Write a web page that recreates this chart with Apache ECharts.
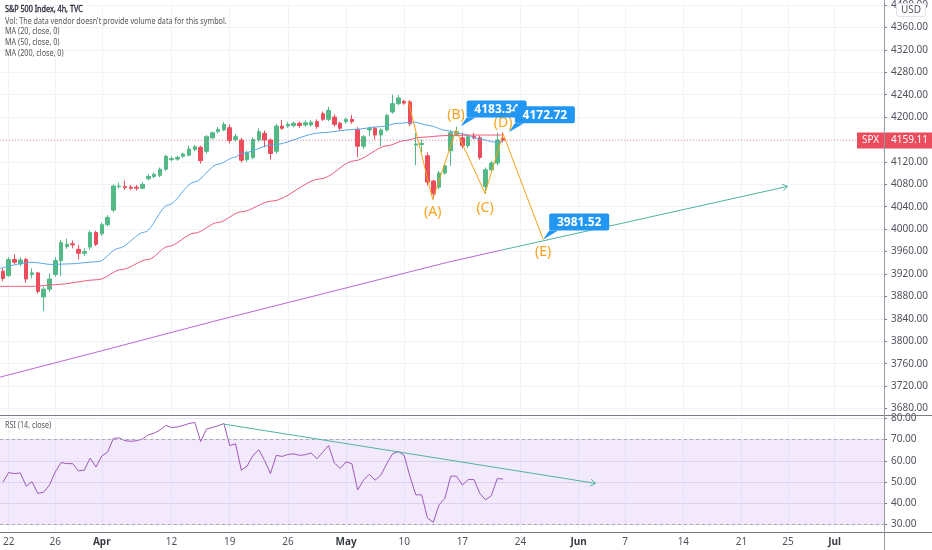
<!DOCTYPE html>
<html>
<head>
<meta charset="utf-8">
<title>S&amp;P 500 Index, 4h, TVC</title>
<script src="https://cdn.jsdelivr.net/npm/echarts@6/dist/echarts.min.js"></script>
<style>
  html, body { margin: 0; padding: 0; background: #fff; }
  #chart { width: 932px; height: 550px; }
</style>
</head>
<body>
<div id="chart"></div>
<script>
// trading days shown on the time scale (two 4h bars per session)
var tradingDays = [
  '2021-03-19', '2021-03-22', '2021-03-23', '2021-03-24', '2021-03-25', '2021-03-26', '2021-03-29', '2021-03-30', '2021-03-31',
  '2021-04-01', '2021-04-05', '2021-04-06', '2021-04-07', '2021-04-08', '2021-04-09', '2021-04-12', '2021-04-13', '2021-04-14',
  '2021-04-15', '2021-04-16', '2021-04-19', '2021-04-20', '2021-04-21', '2021-04-22', '2021-04-23', '2021-04-26', '2021-04-27',
  '2021-04-28', '2021-04-29', '2021-04-30',
  '2021-05-03', '2021-05-04', '2021-05-05', '2021-05-06', '2021-05-07', '2021-05-10', '2021-05-11', '2021-05-12', '2021-05-13',
  '2021-05-14', '2021-05-17', '2021-05-18', '2021-05-19', '2021-05-20', '2021-05-21', '2021-05-24', '2021-05-25', '2021-05-26',
  '2021-05-27', '2021-05-28',
  '2021-06-01', '2021-06-02', '2021-06-03', '2021-06-04', '2021-06-07', '2021-06-08', '2021-06-09', '2021-06-10', '2021-06-11',
  '2021-06-14', '2021-06-15', '2021-06-16', '2021-06-17', '2021-06-18', '2021-06-21', '2021-06-22', '2021-06-23', '2021-06-24',
  '2021-06-25', '2021-06-28', '2021-06-29', '2021-06-30',
  '2021-07-01', '2021-07-02', '2021-07-06', '2021-07-07', '2021-07-08'
];
var sessionStarts = ['09:30', '13:30'];

// time scale labels: [day, label]
var xLabels = [
  ['2021-03-22', '22'], ['2021-03-26', '26'], ['2021-04-01', 'Apr'], ['2021-04-12', '12'], ['2021-04-19', '19'],
  ['2021-04-26', '26'], ['2021-05-03', 'May'], ['2021-05-10', '10'], ['2021-05-17', '17'], ['2021-05-24', '24'],
  ['2021-06-01', 'Jun'], ['2021-06-07', '7'], ['2021-06-14', '14'], ['2021-06-21', '21'], ['2021-06-25', '25'],
  ['2021-07-01', 'Jul']
];
var monthLabels = ['Apr', 'May', 'Jun', 'Jul'];

var priceTicks = [3680, 3720, 3760, 3800, 3840, 3880, 3920, 3960, 4000, 4040, 4080, 4120, 4160, 4200,
  4240, 4280, 4320, 4360, 4400];
var rsiTicks = [30, 40, 50, 60, 70, 80];

// 4h candles [open, close, low, high], first bar = 19 Mar second session
var candles = [
  [3925, 3912, 3907, 3930], [3917, 3946, 3915, 3950], [3946, 3941, 3938, 3955], [3938, 3945, 3934, 3950],
  [3946, 3911, 3904, 3949], [3919, 3922, 3912, 3930], [3922, 3889, 3885, 3924], [3879, 3893, 3854, 3897],
  [3893, 3911, 3888, 3921], [3919, 3944, 3915, 3950], [3944, 3976, 3916, 3981], [3969, 3973, 3965, 3983],
  [3974, 3972, 3966, 3980], [3964, 3957, 3946, 3972], [3957, 3960, 3952, 3966], [3968, 3994, 3963, 3998],
  [3994, 3973, 3970, 3997], [3992, 4008, 3988, 4012], [4008, 4021, 4005, 4025], [4034, 4077, 4030, 4080],
  [4076, 4077, 4072, 4083], [4076, 4074, 4070, 4087], [4075, 4073, 4070, 4079], [4075, 4073, 4069, 4079],
  [4073, 4080, 4071, 4084], [4090, 4094, 4087, 4098], [4094, 4098, 4091, 4101], [4096, 4107, 4093, 4110],
  [4107, 4130, 4104, 4133], [4124, 4126, 4121, 4130], [4125, 4128, 4122, 4131], [4130, 4134, 4127, 4137],
  [4132, 4143, 4130, 4149], [4142, 4147, 4139, 4150], [4146, 4122, 4117, 4149], [4139, 4165, 4135, 4168],
  [4163, 4172, 4160, 4174], [4174, 4178, 4171, 4182], [4177, 4187, 4175, 4191], [4181, 4158, 4153, 4187],
  [4160, 4165, 4156, 4170], [4159, 4123, 4119, 4163], [4124, 4137, 4120, 4140], [4128, 4160, 4125, 4164],
  [4159, 4174, 4156, 4180], [4171, 4159, 4146, 4176], [4159, 4135, 4124, 4162], [4139, 4184, 4135, 4188],
  [4184, 4180, 4177, 4195], [4184, 4187, 4181, 4191], [4185, 4189, 4182, 4192], [4189, 4185, 4181, 4192],
  [4186, 4190, 4183, 4194], [4186, 4191, 4183, 4195], [4192, 4183, 4179, 4196], [4206, 4196, 4193, 4210],
  [4196, 4212, 4193, 4218], [4200, 4187, 4183, 4205], [4189, 4180, 4176, 4192], [4192, 4196, 4188, 4199],
  [4196, 4192, 4188, 4204], [4178, 4148, 4129, 4182], [4148, 4165, 4143, 4168], [4177, 4180, 4166, 4183],
  [4180, 4168, 4160, 4183], [4168, 4177, 4148, 4180], [4177, 4203, 4174, 4206], [4209, 4224, 4206, 4240],
  [4224, 4234, 4221, 4239], [4228, 4225, 4222, 4231], [4227, 4188, 4184, 4230], [4150, 4152, 4114, 4172],
  [4151, 4153, 4137, 4160], [4131, 4084, 4078, 4137], [4086, 4063, 4054, 4088], [4075, 4100, 4071, 4104],
  [4100, 4113, 4097, 4117], [4140, 4172, 4113, 4176], [4169, 4174, 4166, 4183], [4163, 4149, 4144, 4172],
  [4149, 4165, 4145, 4170], [4166, 4163, 4160, 4172], [4163, 4128, 4124, 4167], [4076, 4106, 4063, 4110],
  [4106, 4118, 4102, 4122], [4118, 4159, 4114, 4172], [4162, 4159.11, 4155, 4172.72]
];

// moving averages: [bar position, value]
var ma20 = [
  [-0.5, 3930], [5, 3941], [8.4, 3937], [11.3, 3938], [16.4, 3942], [19.9, 3966], [24.4, 3995],
  [28.4, 4043], [32.9, 4084], [37, 4116], [39.8, 4128], [41, 4135], [46.2, 4150], [54.7, 4172],
  [60.4, 4178], [65, 4183], [68, 4189], [70.7, 4191], [73.3, 4185], [76.2, 4176], [79, 4170],
  [81.8, 4161], [84.8, 4155], [86, 4156]
];
var ma50 = [
  [-0.5, 3898], [5.5, 3898], [9, 3901], [16.4, 3910], [20.4, 3928], [25, 3946], [28.4, 3969],
  [33, 3993], [37, 4012], [41, 4031], [46.2, 4050], [54.7, 4090], [60.4, 4122], [66.2, 4149],
  [69, 4158], [71.9, 4164], [76.2, 4167], [82.2, 4168], [86, 4168]
];
var ma200 = [
  [-0.5, 3736], [17, 3783], [36.4, 3836], [41, 3848], [58.2, 3893], [76.5, 3941], [85.9, 3963]
];

// RSI (14, close), one value per bar
var rsi = [
  50, 54.5, 54.0, 54.3, 48.1, 50.2, 44.7, 45.2, 48.6, 54.8, 59.2, 58.7, 58.7, 55.3, 55.6, 61.3,
  57.1, 62.3, 64.1, 70.6, 70.8, 69.5, 69.2, 69.5, 70.3, 72.3, 73.0, 74.5, 76.7, 75.7, 76.0, 76.7,
  77.6, 78.1, 69.1, 75.0, 75.7, 76.5, 77.6, 67.2, 68.0, 55.6, 57.6, 62.6, 65.2, 60.2, 54.0, 62.6,
  62.1, 63.0, 63.3, 62.6, 62.9, 63.7, 61.0, 64.1, 67.2, 59.0, 56.4, 59.5, 58.7, 46.3, 50.9, 53.7,
  50.9, 53.3, 58.7, 63.3, 64.4, 62.6, 52.5, 44.0, 44.0, 33.1, 31.1, 39.3, 42.4, 52.8, 52.8, 48.6,
  51.2, 51.2, 44.7, 41.6, 43.7, 51.7, 51.4
];

// drawings
var waves = [
  [69.7, 4229, ''], [73.9, 4053, '(A)'], [77.9, 4177, '(B)'], [82.9, 4064, '(C)'],
  [86.0, 4170, '(D)'], [92.9, 3981.52, '(E)']
];
var notes = [[78.7, 4183.34], [87.0, 4172.72], [92.9, 3981.52]];
var trendMain = [[85.9, 3963, 134.9, 4076.3]];
var trendRsi = [[38.0, 77.3, 101.9, 49.4]];
var lastPrice = [[86, 4159.11]];

var categories = [];
tradingDays.forEach(function (d) {
  sessionStarts.forEach(function (t) { categories.push(d + ' ' + t); });
});
categories = categories.slice(1, 153);

var labelIdx = [], labelText = {};
xLabels.forEach(function (l) {
  var i = categories.indexOf(l[0] + ' ' + sessionStarts[0]);
  labelIdx.push(i);
  labelText[i] = l[1];
});

var FONT = '"Noto Sans", sans-serif';
var GRID = '#f0f3fa';
var TEXT = '#50535e';
var UP = '#53b987', DOWN = '#eb4d5c';
var ORANGE = '#f7a21b', TEAL = '#4fb3a0', BLUE = '#2196f3';
var xMax = categories.length - 0.5;

function arrowLine(color) {
  return function (params, api) {
    var p1 = api.coord([api.value(0), api.value(1)]);
    var p2 = api.coord([api.value(2), api.value(3)]);
    var a = Math.atan2(p2[1] - p1[1], p2[0] - p1[0]);
    var s = 6;
    var h1 = [p2[0] - s * Math.cos(a - 0.6), p2[1] - s * Math.sin(a - 0.6)];
    var h2 = [p2[0] - s * Math.cos(a + 0.6), p2[1] - s * Math.sin(a + 0.6)];
    return {
      type: 'group',
      children: [
        { type: 'line', shape: { x1: p1[0], y1: p1[1], x2: p2[0], y2: p2[1] }, style: { stroke: color, lineWidth: 1 } },
        { type: 'polyline', shape: { points: [h1, p2, h2] }, style: { stroke: color, fill: null, lineWidth: 1 } }
      ]
    };
  };
}

function renderNote(params, api) {
  var p = api.coord([api.value(0), api.value(1)]);
  var left = p[0] + 6, bottom = p[1] - 9, w = 60, h = 17;
  return {
    type: 'group',
    children: [
      { type: 'polygon', shape: { points: [[p[0], p[1]], [left, bottom], [left + 9, bottom]] }, style: { fill: BLUE } },
      { type: 'rect', shape: { x: left, y: bottom - h, width: w, height: h, r: 2 }, style: { fill: BLUE } },
      {
        type: 'text', x: left + w / 2, y: bottom - h / 2 + 0.5,
        style: { text: api.value(1).toFixed(2), fill: '#fff', fontFamily: FONT, fontSize: 12, fontWeight: 'bold', align: 'center', verticalAlign: 'middle' }
      }
    ]
  };
}

function renderLast(params, api) {
  var p = api.coord([api.value(0), api.value(1)]);
  var cs = params.coordSys;
  var right = cs.x + cs.width;
  var y = Math.round(p[1]) + 0.5;
  return {
    type: 'group',
    children: [
      { type: 'line', shape: { x1: 0, y1: y, x2: right, y2: y }, style: { stroke: 'rgba(235,77,92,0.55)', lineWidth: 1, lineDash: [1, 2] } },
      { type: 'rect', shape: { x: right - 27, y: y - 8, width: 27, height: 16 }, style: { fill: DOWN } },
      { type: 'text', x: right - 13.5, y: y, style: { text: 'SPX', fill: '#fff', fontFamily: FONT, fontSize: 10, align: 'center', verticalAlign: 'middle' } },
      { type: 'rect', shape: { x: right + 1, y: y - 8, width: 47, height: 16 }, style: { fill: DOWN } },
      { type: 'text', x: right + 7, y: y, style: { text: api.value(1).toFixed(2), fill: '#fff', fontFamily: FONT, fontSize: 10, align: 'left', verticalAlign: 'middle' } }
    ]
  };
}

function legendText(text, top, strong) {
  return {
    type: 'text', x: 5, y: top, scaleX: 0.8, z: 100,
    style: {
      text: text, fill: strong ? '#2a2e39' : '#555', fontFamily: FONT, fontSize: 9,
      stroke: strong ? '#2a2e39' : null, lineWidth: strong ? 0.35 : 0
    }
  };
}

var chart = echarts.init(document.getElementById('chart'));

chart.setOption({
  animation: false,
  backgroundColor: '#fff',
  textStyle: { fontFamily: FONT },
  grid: [
    { left: -2, right: 48, top: 0, height: 415 },
    { left: -2, right: 48, top: 415, height: 117 }
  ],
  xAxis: [
    { type: 'category', gridIndex: 0, data: categories, boundaryGap: true, show: false, position: 'bottom' },
    {
      type: 'value', gridIndex: 0, position: 'bottom', min: -0.5, max: xMax,
      axisLine: { show: false, onZero: false }, axisLabel: { show: false },
      axisTick: { show: false, customValues: labelIdx },
      splitLine: { show: true, lineStyle: { color: GRID } }
    },
    { type: 'category', gridIndex: 1, data: categories, boundaryGap: true, show: false, position: 'bottom' },
    {
      type: 'value', gridIndex: 1, position: 'bottom', min: -0.5, max: xMax,
      axisLine: { show: false, onZero: false },
      axisTick: { show: false, customValues: labelIdx },
      axisLabel: {
        customValues: labelIdx, margin: 5, color: TEXT, fontSize: 10,
        formatter: function (v) {
          var t = labelText[v];
          return monthLabels.indexOf(t) >= 0 ? '{b|' + t + '}' : t;
        },
        rich: { b: { fontWeight: 'bold', fontSize: 10, color: '#3a3d45' } }
      },
      splitLine: { show: true, lineStyle: { color: GRID } }
    }
  ],
  yAxis: [
    {
      type: 'value', gridIndex: 0, position: 'right', min: 3668.4, max: 4402,
      axisLine: { show: false, onZero: false },
      axisTick: { show: true, length: 3, customValues: priceTicks, lineStyle: { color: '#787b86' } },
      axisLabel: { customValues: priceTicks, margin: 7, color: TEXT, fontSize: 10, formatter: function (v) { return v.toFixed(2); } },
      splitLine: { show: true, lineStyle: { color: GRID } }
    },
    {
      type: 'value', gridIndex: 1, position: 'right', min: 26.5, max: 81.6,
      axisLine: { show: false, onZero: false },
      axisTick: { show: true, length: 3, customValues: rsiTicks, lineStyle: { color: '#787b86' } },
      axisLabel: { customValues: rsiTicks, margin: 7, color: TEXT, fontSize: 10, formatter: function (v) { return v.toFixed(2); } },
      splitLine: { show: true, lineStyle: { color: '#e9e3f3' } }
    }
  ],
  series: [
    {
      name: 'SPX', type: 'candlestick', xAxisIndex: 0, yAxisIndex: 0, data: candles, barWidth: 4, z: 3,
      itemStyle: { color: UP, color0: DOWN, borderColor: UP, borderColor0: DOWN, borderWidth: 1 }
    },
    {
      name: 'MA 20', type: 'line', xAxisIndex: 1, yAxisIndex: 0, data: ma20, showSymbol: false, z: 4,
      smooth: 0.3, smoothMonotone: 'x', lineStyle: { color: '#5aa6e8', width: 1 }
    },
    {
      name: 'MA 50', type: 'line', xAxisIndex: 1, yAxisIndex: 0, data: ma50, showSymbol: false, z: 4,
      smooth: 0.3, smoothMonotone: 'x', lineStyle: { color: '#ee5a7a', width: 1 }
    },
    {
      name: 'MA 200', type: 'line', xAxisIndex: 1, yAxisIndex: 0, data: ma200, showSymbol: false, z: 4,
      lineStyle: { color: '#b868d4', width: 1 }
    },
    {
      name: 'Waves', type: 'line', xAxisIndex: 1, yAxisIndex: 0, z: 5,
      symbol: 'circle', symbolSize: 1, showAllSymbol: true,
      itemStyle: { color: 'rgba(0,0,0,0)' },
      lineStyle: { color: ORANGE, width: 1 },
      data: waves.map(function (w) {
        var up = w[2] === '(B)' || w[2] === '(D)';
        return {
          value: [w[0], w[1]],
          label: {
            show: w[2] !== '', formatter: w[2], position: up ? 'top' : 'bottom',
            distance: w[2] === '(D)' ? 3 : (w[2] === '(B)' || w[2] === '(C)' ? 7 : 5),
            color: ORANGE, fontSize: 14, fontFamily: FONT
          }
        };
      })
    },
    {
      name: 'Trend', type: 'custom', xAxisIndex: 1, yAxisIndex: 0, z: 5,
      encode: { x: [0, 2], y: [1, 3] }, data: trendMain, renderItem: arrowLine(TEAL)
    },
    {
      name: 'Notes', type: 'custom', xAxisIndex: 1, yAxisIndex: 0, z: 6,
      encode: { x: 0, y: 1 }, data: notes, renderItem: renderNote
    },
    {
      name: 'Last', type: 'custom', xAxisIndex: 1, yAxisIndex: 0, z: 6,
      encode: { x: 0, y: 1 }, data: lastPrice, renderItem: renderLast
    },
    {
      name: 'RSI', type: 'line', xAxisIndex: 2, yAxisIndex: 1, data: rsi, showSymbol: false, z: 4,
      lineStyle: { color: '#9c5bb5', width: 1 },
      markArea: {
        silent: true,
        itemStyle: { color: 'rgba(149,76,233,0.12)' },
        data: [[{ yAxis: 30 }, { yAxis: 70 }]]
      },
      markLine: {
        silent: true, symbol: 'none', label: { show: false },
        lineStyle: { color: '#a9a9b3', type: [3, 3], width: 1 },
        data: [{ yAxis: 70 }, { yAxis: 30 }]
      }
    },
    {
      name: 'RSI trend', type: 'custom', xAxisIndex: 3, yAxisIndex: 1, z: 5,
      encode: { x: [0, 2], y: [1, 3] }, data: trendRsi, renderItem: arrowLine(TEAL)
    }
  ],
  graphic: [
    { type: 'line', z: 100, shape: { x1: 0, y1: 415.5, x2: 932, y2: 415.5 }, style: { stroke: '#787b86', lineWidth: 1 } },
    { type: 'line', z: 100, shape: { x1: 0, y1: 532.5, x2: 932, y2: 532.5 }, style: { stroke: '#787b86', lineWidth: 1 } },
    { type: 'line', z: 100, shape: { x1: 884.5, y1: 0, x2: 884.5, y2: 550 }, style: { stroke: '#9598a1', lineWidth: 1 } },
    {
      type: 'text', left: 896, top: 3, z: 101,
      style: {
        text: 'USD', fill: TEXT, fontFamily: FONT, fontSize: 10, backgroundColor: '#fff',
        borderColor: '#e0e3eb', borderWidth: 1, padding: [1, 4], borderRadius: 2
      }
    },
    legendText('S&P 500 Index, 4h, TVC', 5, true),
    legendText('Vol: The data vendor doesn\'t provide volume data for this symbol.', 16.5, false),
    legendText('MA (20, close, 0)', 27, false),
    legendText('MA (50, close, 0)', 38, false),
    legendText('MA (200, close, 0)', 49, false),
    legendText('RSI (14, close)', 421, false)
  ]
});
</script>
</body>
</html>
